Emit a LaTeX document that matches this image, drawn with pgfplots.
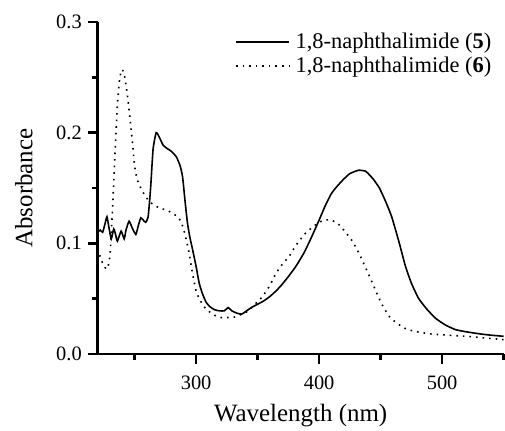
\documentclass[border=0pt]{standalone}
\usepackage{pgfplots}
\pgfplotsset{compat=1.18}
\usepackage{fontspec}
\setmainfont{Liberation Serif}
\begin{document}
\begin{tikzpicture}
\begin{axis}[
  scale only axis,
  width=407pt, height=333pt,
  xmin=220, xmax=550, ymin=0, ymax=0.3,
  line width=2.8pt,
  axis x line*=bottom, axis y line*=left,
  axis line style={line width=2.8pt},
  every outer x axis line/.append style={line width=2.8pt},
  every outer y axis line/.append style={line width=2.8pt},
  tick style={line width=2.6pt, black},
  tick align=outside,
  xtick={300,400,500}, minor xtick={250,350,450,550},
  ytick={0,0.1,0.2,0.3}, minor ytick={0.05,0.15,0.25},
  /pgf/number format/assume math mode=true,
  yticklabel style={xshift=-7pt, /pgf/number format/fixed, /pgf/number format/fixed zerofill, /pgf/number format/precision=1},
  ticklabel style={font=\fontsize{20.5}{22}\selectfont},
  xticklabel style={yshift=-13pt},
  xlabel={Wavelength (nm)}, ylabel={Absorbance},
  label style={font=\fontsize{25}{27}\selectfont},
  xlabel style={at={(axis description cs:0.5,-0.204)}, anchor=base},
  ylabel style={at={(axis description cs:-0.182,0.5)}, anchor=center},
  legend style={draw=none, fill=none, at={(1,1)}, anchor=north east,
    xshift=-6pt, yshift=-6pt,
    font=\fontsize{22.5}{25}\selectfont, row sep=3pt},
  legend cell align=left,
  legend image code/.code={\draw[line width=1.6pt, #1] (0pt,0pt) -- (53pt,0pt); \path (57pt,0pt);},
  clip=false,
]
\addplot[black, line width=1.6pt, smooth, tension=0.3] coordinates {
(220,0.110) (222,0.112) (224,0.110) (226,0.118) (227.5,0.124) (229,0.115) (231,0.104) (233,0.113) (234.5,0.108) (236,0.102) (239,0.111) (241.5,0.104) (243,0.112) (245.5,0.120) (248,0.114) (251,0.108) (253,0.116) (255,0.123) (257,0.121) (259,0.119) (261,0.124) (263,0.150) (265,0.185) (267.5,0.200) (270,0.196) (273,0.189) (276,0.186) (280,0.183) (284,0.178) (287,0.170) (289,0.160) (291,0.138) (293,0.118) (295,0.105) (297,0.095) (300,0.079) (302.5,0.064) (305,0.055) (308,0.047) (311,0.043) (315,0.040) (319,0.039) (323,0.039) (326,0.042) (329,0.039) (333,0.037) (337,0.036) (341,0.039) (345,0.042) (350,0.045) (355,0.048) (360,0.052) (365,0.057) (370,0.063) (375,0.070) (381,0.079) (388,0.092) (394,0.106) (400,0.121) (405,0.134) (410,0.145) (415,0.152) (420,0.158) (425,0.163) (432,0.166) (438,0.165) (444,0.158) (449,0.150) (454,0.138) (459,0.124) (465,0.101) (470,0.080) (475,0.064) (481,0.050) (488,0.040) (495,0.032) (503,0.026) (511,0.022) (520,0.020) (532,0.018) (540,0.017) (550,0.016)
};
\addlegendentry{1,8-naphthalimide (\textbf{5})}
\addplot[black, line width=1.6pt, dash pattern=on 1.6pt off 5pt, smooth, tension=0.3] coordinates {
(220,0.095) (222,0.088) (224,0.082) (226,0.078) (228,0.077) (230,0.090) (232,0.130) (234,0.180) (236,0.225) (238,0.250) (240,0.257) (242,0.250) (244,0.235) (246,0.215) (248,0.194) (250,0.170) (252,0.158) (255,0.150) (259,0.142) (264,0.136) (270,0.132) (276,0.130) (281,0.127) (285,0.124) (288,0.119) (291,0.108) (294,0.093) (297,0.073) (300,0.057) (303,0.049) (307,0.042) (311,0.038) (315,0.035) (320,0.033) (325,0.033) (330,0.033) (335,0.035) (341,0.038) (347,0.044) (354,0.052) (360,0.062) (365,0.073) (370,0.081) (375.5,0.088) (381,0.098) (388,0.108) (394,0.114) (400,0.119) (405,0.121) (410,0.121) (416,0.117) (421.5,0.110) (427,0.102) (432,0.092) (437,0.080) (443,0.065) (448,0.052) (452,0.043) (457,0.034) (463,0.028) (471,0.0225) (480,0.020) (492,0.018) (505,0.017) (520,0.016) (535,0.0145) (550,0.013)
};
\addlegendentry{1,8-naphthalimide (\textbf{6})}
\pgfplotsinvokeforeach{300,400,500}{\draw[line width=2.6pt] (axis cs:#1,0) -- ++(0pt,-10pt);}
\pgfplotsinvokeforeach{250,350,450,550}{\draw[line width=2.6pt] (axis cs:#1,0) -- ++(0pt,-6pt);}
\pgfplotsinvokeforeach{0,0.1,0.2,0.3}{\draw[line width=2.6pt] (axis cs:220,#1) -- ++(-10pt,0pt);}
\pgfplotsinvokeforeach{0.05,0.15,0.25}{\draw[line width=2.6pt] (axis cs:220,#1) -- ++(-6pt,0pt);}
\end{axis}
\path (current axis.south west) ++(-98pt,-72pt);
\path (current axis.north east) ++(0pt,22pt);
\end{tikzpicture}
\end{document}
